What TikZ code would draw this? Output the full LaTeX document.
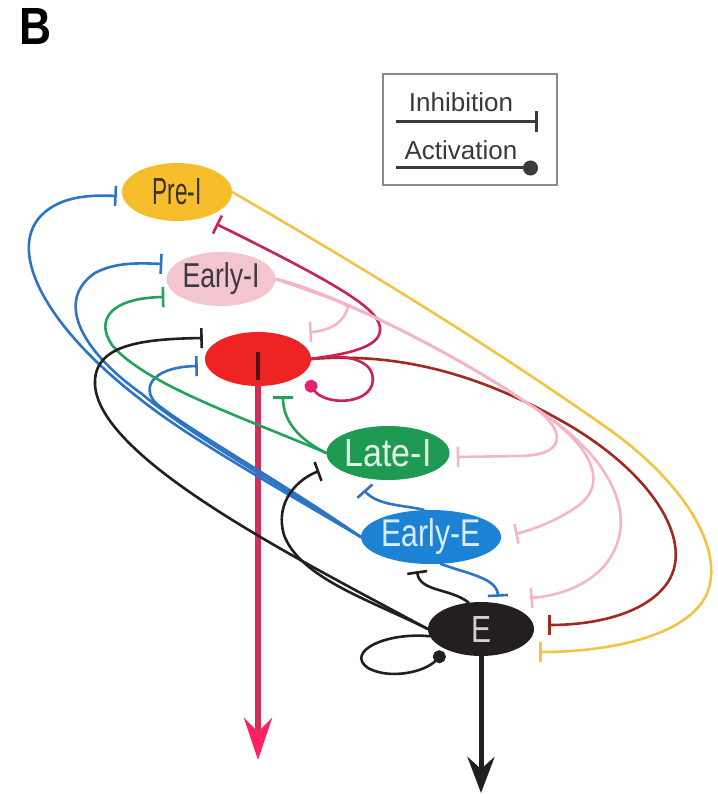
\documentclass[tikz,border=0pt]{standalone}
\usepackage{fontspec}
\setmainfont{Liberation Sans}
\usepackage{graphicx}
\usetikzlibrary{arrows.meta,shapes.geometric,calc}
\definecolor{cYelFill}{HTML}{F6BE2A}
\definecolor{cYelLine}{HTML}{F3C443}
\definecolor{cPinkFill}{HTML}{F3C5CF}
\definecolor{cPinkLine}{HTML}{F4B6C6}
\definecolor{cRedFill}{HTML}{EE2424}
\definecolor{cCrim}{HTML}{C9234F}
\definecolor{cDkRed}{HTML}{A02A1E}
\definecolor{cGrnFill}{HTML}{1F9A52}
\definecolor{cGrnLine}{HTML}{24A15C}
\definecolor{cBluFill}{HTML}{1C83D4}
\definecolor{cBluLine}{HTML}{2E74C6}
\definecolor{cBlk}{HTML}{231F20}
\definecolor{cOut}{HTML}{D42D5B}
\definecolor{cArrow}{HTML}{FF2263}
\definecolor{cMag}{HTML}{E6246C}
\definecolor{cIdark}{HTML}{4A1515}
\definecolor{cLeg}{HTML}{3A3A3A}
\definecolor{cBox}{HTML}{8A8A8A}
\pgfdeclarelayer{back}
\pgfdeclarelayer{bg}
\pgfsetlayers{back,bg,main}
\begin{document}
\begin{tikzpicture}[x=1pt,y=-1pt,
  cell/.style={ellipse,inner sep=0pt,draw=none},
  conn/.style={line width=2.6pt,line cap=round},
  inh/.style={conn,-{Bar[width=20pt]}},
  act/.style={conn,-{Circle[length=13pt]}},
  yel/.style={color=cYelLine},
  pk/.style={color=cPinkLine},
  crim/.style={color=cCrim},
  dkr/.style={color=cDkRed},
  grn/.style={color=cGrnLine},
  blu/.style={color=cBluLine},
  blk/.style={color=cBlk},
  legtxt/.style={inner sep=0pt,text=cLeg,font=\fontsize{26}{30}\selectfont}
]
\begin{pgfonlayer}{back}
\fill[white] (0,0) rectangle (717,794);
\end{pgfonlayer}
\useasboundingbox (0,0) rectangle (717,794);

% panel letter
\node[inner sep=0pt] (Blab) at (36,27) {\resizebox{32pt}{36pt}{\bfseries B}};

% legend
\node[draw=cBox,line width=1.5pt,minimum width=174pt,minimum height=111pt,inner sep=0pt] (legend) at (470,129.5) {};
\node[legtxt] (inhtxt) at (461,102) {Inhibition};
\node[legtxt] (acttxt) at (461,150) {Activation};
\coordinate (inhA) at (396,122);
\coordinate (inhB) at (538,122);
\coordinate (actA) at (396,168);
\coordinate (actB) at (538,168);
\draw[line width=3pt,color=cLeg,-{Bar[width=21pt]}] (inhA) -- (inhB);
\draw[line width=3pt,color=cLeg,-{Circle[length=15pt]}] (actA) -- (actB);

% cells
\node[cell,fill=cYelFill,minimum width=110pt,minimum height=58pt] (PreI) at (177,192)
  {\color[HTML]{3B3320}\resizebox{49pt}{26pt}{Pre-I}};
\node[cell,fill=cPinkFill,minimum width=108pt,minimum height=54pt] (EarlyI) at (221,279)
  {\color[HTML]{3A3A40}\resizebox{77pt}{25pt}{Early-I}};
\node[cell,fill=cRedFill,minimum width=106pt,minimum height=54pt] (I) at (258,359) {};
\node[cell,fill=cGrnFill,minimum width=104pt,minimum height=54pt] (LateI) at (388,453)
  {\color[HTML]{E2F2E2}\resizebox{87pt}{27pt}{Late-I}};
\node[cell,fill=cBluFill,minimum width=106pt,minimum height=54pt] (EarlyE) at (431,537)
  {\color[HTML]{D8ECFA}\resizebox{99pt}{28pt}{Early-E}};
\node[cell,fill=cBlk,minimum width=106pt,minimum height=54pt] (E) at (481,629)
  {\color[HTML]{D0D0D0}\resizebox{20pt}{26pt}{E}};

\coordinate (Iout) at (258,760);
\coordinate (Eout) at (481,793);

\begin{pgfonlayer}{bg}
% outputs
\draw[line width=6pt,color=cOut,-{Stealth[length=42pt,width=28pt,inset=14pt,color=cArrow]}] (I.south) -- (Iout);
\draw[line width=5pt,color=cBlk,-{Stealth[length=36pt,width=27pt,inset=12pt]}] (E.south) -- (Eout);

% yellow: Pre-I -| E
\draw[inh,yel] (PreI.east) .. controls (450,318) and (560,395) .. (610,430)
  .. controls (700,495) and (730,568) .. (700,605)
  .. controls (672,640) and (600,652) .. ($(E.east)+(5,23)$);

% dark red: I -| E
\draw[inh,dkr] (I.east) .. controls (400,352) and (480,375) .. (560,420)
  .. controls (650,470) and (695,540) .. (668,582)
  .. controls (645,616) and (590,625) .. ($(E.east)+(14,-4)$);

% crimson: I -| Pre-I
\draw[inh,crim] (I.east) .. controls (345,354) and (382,348) .. (380,328)
  .. controls (378,310) and (350,290) .. ($(PreI.east)+(-16,32)$);
% crimson self activation
\draw[conn,crim,-{Circle[length=13pt,color=cMag]}] (I.east) .. controls (350,352) and (378,362) .. (372,385)
  .. controls (365,405) and (325,405) .. ($(I.east)+(-4,22)$);

% pink: Early-I inhibits I, Late-I, Early-E, E
\draw[inh,pk] (EarlyI.east) .. controls (300,288) and (330,297) .. (348,306)
  .. controls (345,322) and (330,331) .. ($(I.east)+(-2,-27)$);
\draw[inh,pk] (EarlyI.east) .. controls (330,292) and (450,350) .. (530,405)
  .. controls (560,423) and (575,455) .. (520,456) -- ($(LateI.east)+(7,4)$);
\draw[inh,pk] (EarlyI.east) .. controls (330,292) and (450,350) .. (530,405)
  .. controls (585,438) and (615,482) .. (575,508)
  .. controls (550,525) and (520,533) .. ($(EarlyE.east)+(14,-3)$);
\draw[inh,pk] (EarlyI.east) .. controls (330,292) and (450,350) .. (530,405)
  .. controls (605,450) and (645,515) .. (605,565)
  .. controls (585,588) and (555,596) .. ($(E.east)+(-4,-31)$);

% blue: Early-E inhibits Pre-I, Early-I, I, Late-I, E
\draw[inh,blu] (EarlyE.west) .. controls (280,489) and (190,439) .. (140,399)
  .. controls (40,322) and (5,245) .. (45,212)
  .. controls (65,195) and (95,195) .. ($(PreI.west)+(-5,4)$);
\draw[inh,blu] (EarlyE.west) .. controls (280,485) and (190,435) .. (142,394)
  .. controls (80,350) and (55,300) .. (95,273)
  .. controls (115,262) and (140,263) .. ($(EarlyI.west)+(-4,-15)$);
\draw[inh,blu] (EarlyE.west) .. controls (280,481) and (200,437) .. (158,405)
  .. controls (140,390) and (150,367) .. ($(I.west)+(-7,7)$);
\draw[inh,blu] (EarlyE.105) .. controls (405,505) and (378,506) .. ($(LateI.south)+(-24,10)$);
\draw[inh,blu] (EarlyE.-70) .. controls (468,574) and (497,578) .. ($(E.north)+(17,-5)$);

% green: Late-I inhibits Early-I, I
\draw[inh,grn] (LateI.west) .. controls (250,420) and (145,385) .. (112,345)
  .. controls (95,320) and (110,298) .. ($(EarlyI.west)+(-2,18)$);
\draw[inh,grn] (LateI.west) .. controls (300,440) and (283,422) .. ($(I.south)+(25,10)$);

% black: E inhibits I, Late-I, Early-E; self activation
\draw[inh,blk] (E.west) .. controls (300,560) and (100,460) .. (95,385)
  .. controls (93,345) and (140,339) .. ($(I.west)+(-2,-21)$);
\draw[inh,blk] (E.west) .. controls (370,600) and (300,578) .. (284,535)
  .. controls (274,500) and (300,478) .. ($(LateI.west)+(-7,18)$);
\draw[inh,blk] (E.115) .. controls (450,588) and (420,592) .. ($(EarlyE.south)+(-14,7)$);
\draw[act,blk] (E.188) .. controls (385,632) and (345,652) .. (368,668)
  .. controls (390,680) and (425,672) .. ($(E.west)+(16,23)$);
\end{pgfonlayer}

% dark stroke inside I
\draw[line width=4pt,color=cIdark] ($(I.center)+(0,-7)$) -- ($(I.south)+(0,-6)$);
\end{tikzpicture}
\end{document}
